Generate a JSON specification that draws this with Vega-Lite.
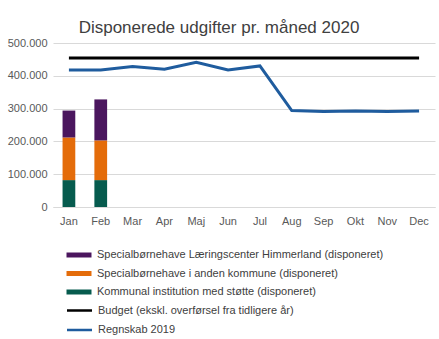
{
  "$schema": "https://vega.github.io/schema/vega-lite/v6.json",
  "width": 382,
  "height": 164,
  "autosize": "none",
  "padding": {"left": 53, "top": 43, "right": 4, "bottom": 132},
  "background": "white",
  "title": {
    "text": "Disponerede udgifter pr. måned 2020",
    "anchor": "middle",
    "frame": "group",
    "dx": -25,
    "offset": 0,
    "fontSize": 17,
    "font": "Liberation Sans",
    "fontWeight": "normal",
    "color": "#404040"
  },
  "config": {
    "view": {"stroke": null},
    "font": "Liberation Sans",
    "axis": {"labelFont": "Liberation Sans", "labelFontSize": 11, "labelColor": "#595959", "title": null, "ticks": false},
    "legend": {"labelFont": "Liberation Sans", "labelFontSize": 11, "labelColor": "#404040", "labelLimit": 0}
  },
  "datasets": {
    "bars": [
      {"month": "Jan", "series": "Kommunal institution med støtte (disponeret)", "order": 1, "value": 82000},
      {"month": "Jan", "series": "Specialbørnehave i anden kommune (disponeret)", "order": 2, "value": 130000},
      {"month": "Jan", "series": "Specialbørnehave Læringscenter Himmerland (disponeret)", "order": 3, "value": 82000},
      {"month": "Feb", "series": "Kommunal institution med støtte (disponeret)", "order": 1, "value": 82000},
      {"month": "Feb", "series": "Specialbørnehave i anden kommune (disponeret)", "order": 2, "value": 121000},
      {"month": "Feb", "series": "Specialbørnehave Læringscenter Himmerland (disponeret)", "order": 3, "value": 125000}
    ],
    "lines": [
      {"month": "Jan", "series": "Budget (ekskl. overførsel fra tidligere år)", "value": 454000},
      {"month": "Feb", "series": "Budget (ekskl. overførsel fra tidligere år)", "value": 454000},
      {"month": "Mar", "series": "Budget (ekskl. overførsel fra tidligere år)", "value": 454000},
      {"month": "Apr", "series": "Budget (ekskl. overførsel fra tidligere år)", "value": 454000},
      {"month": "Maj", "series": "Budget (ekskl. overførsel fra tidligere år)", "value": 454000},
      {"month": "Jun", "series": "Budget (ekskl. overførsel fra tidligere år)", "value": 454000},
      {"month": "Jul", "series": "Budget (ekskl. overførsel fra tidligere år)", "value": 454000},
      {"month": "Aug", "series": "Budget (ekskl. overførsel fra tidligere år)", "value": 454000},
      {"month": "Sep", "series": "Budget (ekskl. overførsel fra tidligere år)", "value": 454000},
      {"month": "Okt", "series": "Budget (ekskl. overførsel fra tidligere år)", "value": 454000},
      {"month": "Nov", "series": "Budget (ekskl. overførsel fra tidligere år)", "value": 454000},
      {"month": "Dec", "series": "Budget (ekskl. overførsel fra tidligere år)", "value": 454000},
      {"month": "Jan", "series": "Regnskab 2019", "value": 418000},
      {"month": "Feb", "series": "Regnskab 2019", "value": 418000},
      {"month": "Mar", "series": "Regnskab 2019", "value": 428000},
      {"month": "Apr", "series": "Regnskab 2019", "value": 420000},
      {"month": "Maj", "series": "Regnskab 2019", "value": 441000},
      {"month": "Jun", "series": "Regnskab 2019", "value": 418000},
      {"month": "Jul", "series": "Regnskab 2019", "value": 430000},
      {"month": "Aug", "series": "Regnskab 2019", "value": 294000},
      {"month": "Sep", "series": "Regnskab 2019", "value": 291000},
      {"month": "Okt", "series": "Regnskab 2019", "value": 293000},
      {"month": "Nov", "series": "Regnskab 2019", "value": 291000},
      {"month": "Dec", "series": "Regnskab 2019", "value": 293000}
    ]
  },
  "encoding": {
    "x": {
      "field": "month",
      "type": "nominal",
      "sort": ["Jan", "Feb", "Mar", "Apr", "Maj", "Jun", "Jul", "Aug", "Sep", "Okt", "Nov", "Dec"],
      "scale": {"domain": ["Jan", "Feb", "Mar", "Apr", "Maj", "Jun", "Jul", "Aug", "Sep", "Okt", "Nov", "Dec"], "paddingInner": 0.6, "paddingOuter": 0.3},
      "axis": {"labelAngle": 0, "domainColor": "#D9D9D9", "labelPadding": 8, "grid": false}
    }
  },
  "layer": [
    {
      "data": {"name": "bars"},
      "mark": {"type": "bar"},
      "encoding": {
        "y": {
          "field": "value",
          "type": "quantitative",
          "stack": "zero",
          "scale": {"domain": [0, 500000]},
          "axis": {
            "values": [0, 100000, 200000, 300000, 400000, 500000],
            "labelExpr": "replace(format(datum.value, ',.0f'), ',', '.')",
            "labelOverlap": false,
            "domain": false,
            "gridColor": "#D9D9D9",
            "labelPadding": 6
          }
        },
        "order": {"field": "order", "type": "quantitative"},
        "color": {
          "field": "series",
          "type": "nominal",
          "scale": {
            "domain": ["Specialbørnehave Læringscenter Himmerland (disponeret)", "Specialbørnehave i anden kommune (disponeret)", "Kommunal institution med støtte (disponeret)"],
            "range": ["#4B165E", "#E46C0A", "#065B4E"]
          },
          "legend": {
            "title": null,
            "orient": "none",
            "legendX": 20,
            "legendY": 206,
            "symbolType": "M-2.5,-0.5H2.5V0.5H-2.5Z",
            "symbolSize": 100,
            "symbolOpacity": 1,
            "labelOffset": 12,
            "rowPadding": 7.5
          }
        }
      }
    },
    {
      "data": {"name": "lines"},
      "mark": {"type": "line", "strokeWidth": 3},
      "encoding": {
        "y": {
          "field": "value",
          "type": "quantitative",
          "scale": {"domain": [0, 500000]},
          "axis": {
            "values": [0, 100000, 200000, 300000, 400000, 500000],
            "labelExpr": "replace(format(datum.value, ',.0f'), ',', '.')",
            "labelOverlap": false,
            "domain": false,
            "gridColor": "#D9D9D9",
            "labelPadding": 6
          }
        },
        "stroke": {
          "field": "series",
          "type": "nominal",
          "scale": {
            "domain": ["Budget (ekskl. overførsel fra tidligere år)", "Regnskab 2019"],
            "range": ["#000000", "#1F5C9E"]
          },
          "legend": {
            "title": null,
            "orient": "none",
            "legendX": 20,
            "legendY": 261,
            "symbolType": "M-2.5,0H2.5",
            "symbolSize": 100,
            "symbolStrokeWidth": 2.5,
            "labelOffset": 12,
            "rowPadding": 7.5
          }
        }
      }
    }
  ]
}
